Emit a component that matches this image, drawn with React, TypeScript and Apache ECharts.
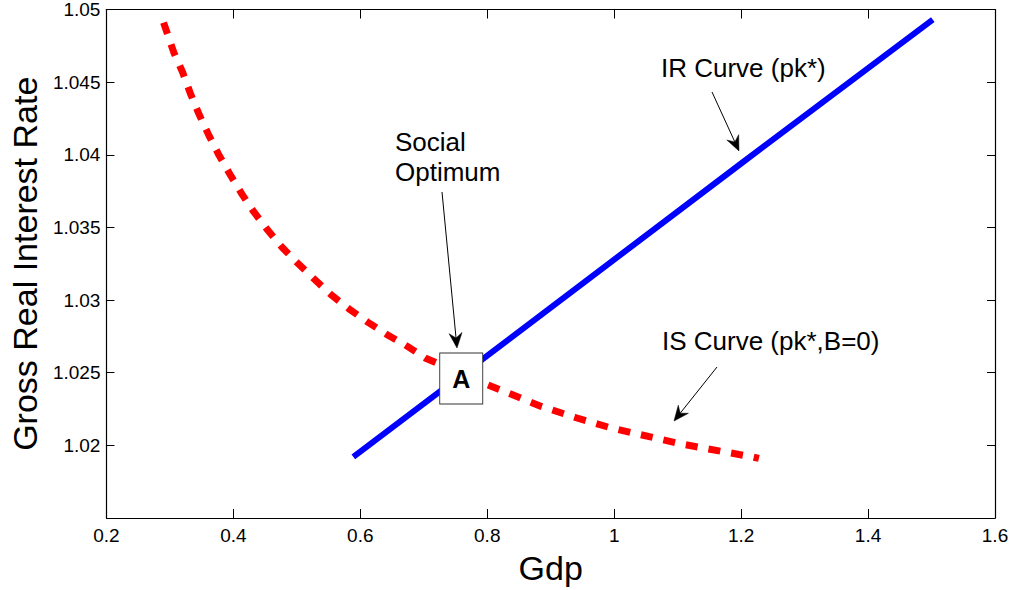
import React, { useEffect, useRef } from "react";
import * as echarts from "echarts";

// ---- data ----
const irCurve: [number, number][] = [
  [0.589, 1.0192],
  [1.2, 1.0394],
  [1.502, 1.0493],
];

const isCurve: [number, number][] = [
  [0.29, 1.0491],
  [0.306, 1.04706],
  [0.32, 1.04568],
  [0.332, 1.04425],
  [0.345, 1.04288],
  [0.361, 1.04137],
  [0.377, 1.04],
  [0.395, 1.03863],
  [0.414, 1.03726],
  [0.432, 1.03608],
  [0.454, 1.03482],
  [0.477, 1.03362],
  [0.501, 1.03255],
  [0.526, 1.0315],
  [0.553, 1.0304],
  [0.582, 1.0294],
  [0.611, 1.0285],
  [0.643, 1.0276],
  [0.671, 1.0269],
  [0.703, 1.026],
  [0.793, 1.0243],
  [0.884, 1.0227],
  [0.94, 1.0219],
  [0.995, 1.0212],
  [1.105, 1.0201],
  [1.218, 1.0192],
  [1.228, 1.0191],
];

const optimumPoint: [number, number][] = [[0.759, 1.0246]];
const optimumLabel = "A";

const xMin = 0.2;
const xMax = 1.6;
const xInterval = 0.2;
const yMin = 1.015;
const yMax = 1.05;
const yInterval = 0.005;

const xTitle = "Gdp";
const yTitle = "Gross Real Interest Rate";
const irLabel = "IR Curve (pk*)";
const isLabel = "IS Curve (pk*,B=0)";
const optimumText = ["Social", "Optimum"];

const FONT = "'Liberation Sans', Arial, Helvetica, sans-serif";

function arrow(x1: number, y1: number, x2: number, y2: number) {
  const dx = x2 - x1;
  const dy = y2 - y1;
  const len = Math.sqrt(dx * dx + dy * dy);
  const ux = dx / len;
  const uy = dy / len;
  const nx = -uy;
  const ny = ux;
  const L = 15;
  const hw = 6.5;
  const notch = 10;
  const bx = x2 - ux * L;
  const by = y2 - uy * L;
  const nX = x2 - ux * notch;
  const nY = y2 - uy * notch;
  return [
    {
      type: "line",
      shape: { x1, y1, x2: nX, y2: nY },
      style: { stroke: "#000", lineWidth: 1 },
      z: 100,
    },
    {
      type: "polygon",
      shape: {
        points: [
          [x2, y2],
          [bx + nx * hw, by + ny * hw],
          [nX, nY],
          [bx - nx * hw, by - ny * hw],
        ],
      },
      style: { fill: "#000", stroke: "#000", lineWidth: 0.5 },
      z: 100,
    },
  ];
}

function fmt(v: number) {
  return String(parseFloat(v.toFixed(4)));
}

export default function App() {
  const ref = useRef<HTMLDivElement>(null);

  useEffect(() => {
    if (!ref.current) return;
    const chart = echarts.init(ref.current, undefined, { renderer: "svg" });

    const axisLine = { show: true, lineStyle: { color: "#000", width: 1.2 } };
    const textStyle26 = { fontFamily: FONT, fontSize: 26, fill: "#000" };

    chart.setOption({
      animation: false,
      backgroundColor: "#fff",
      grid: { left: 106, right: 17, top: 9, bottom: 68, containLabel: false },
      xAxis: [
        {
          type: "value",
          min: xMin,
          max: xMax,
          interval: xInterval,
          position: "bottom",
          axisLine,
          axisTick: { show: true, inside: true, length: 9, lineStyle: { color: "#000" } },
          axisLabel: {
            show: true,
            color: "#000",
            fontFamily: FONT,
            fontSize: 19,
            margin: 8,
            formatter: (v: number) => fmt(v),
          },
          splitLine: { show: false },
          name: xTitle,
          nameLocation: "middle",
          nameGap: 33,
          nameTextStyle: { fontFamily: FONT, fontSize: 34, color: "#000" },
        },
        {
          type: "value",
          min: xMin,
          max: xMax,
          interval: xInterval,
          position: "top",
          axisLine,
          axisTick: { show: true, inside: true, length: 9, lineStyle: { color: "#000" } },
          axisLabel: { show: false },
          splitLine: { show: false },
        },
      ],
      yAxis: [
        {
          type: "value",
          min: yMin,
          max: yMax,
          interval: yInterval,
          position: "left",
          axisLine,
          axisTick: { show: true, inside: true, length: 8, lineStyle: { color: "#000" } },
          axisLabel: {
            show: true,
            showMinLabel: false,
            color: "#000",
            fontFamily: FONT,
            fontSize: 19,
            margin: 6,
            formatter: (v: number) => fmt(v),
          },
          splitLine: { show: false },
          name: yTitle,
          nameLocation: "middle",
          nameGap: 62,
          nameRotate: 90,
          nameTextStyle: { fontFamily: FONT, fontSize: 34, color: "#000" },
        },
        {
          type: "value",
          min: yMin,
          max: yMax,
          interval: yInterval,
          position: "right",
          axisLine,
          axisTick: { show: true, inside: true, length: 8, lineStyle: { color: "#000" } },
          axisLabel: { show: false },
          splitLine: { show: false },
        },
      ],
      series: [
        {
          type: "line",
          name: "IS",
          data: isCurve,
          showSymbol: false,
          symbol: "none",
          smooth: false,
          lineStyle: { color: "#ff0000", width: 7, type: [12, 11], cap: "butt" },
          z: 2,
        },
        {
          type: "line",
          name: "IR",
          data: irCurve,
          showSymbol: false,
          symbol: "none",
          lineStyle: { color: "#0000ff", width: 6, cap: "butt" },
          z: 3,
        },
        {
          type: "scatter",
          name: "A",
          data: optimumPoint,
          symbol: "rect",
          symbolSize: [43, 51],
          itemStyle: { color: "#fff", borderColor: "#333", borderWidth: 1, opacity: 1 },
          label: {
            show: true,
            position: "inside",
            formatter: () => optimumLabel,
            fontFamily: FONT,
            fontWeight: "bold",
            fontSize: 25,
            color: "#000",
          },
          z: 10,
        },
      ],
      graphic: [
        {
          type: "text",
          x: 661,
          y: 68,
          style: { ...textStyle26, text: irLabel, textVerticalAlign: "middle" },
          z: 100,
        },
        {
          type: "text",
          x: 395,
          y: 142,
          style: { ...textStyle26, text: optimumText[0], textVerticalAlign: "middle" },
          z: 100,
        },
        {
          type: "text",
          x: 395,
          y: 172,
          style: { ...textStyle26, text: optimumText[1], textVerticalAlign: "middle" },
          z: 100,
        },
        {
          type: "text",
          x: 662,
          y: 341,
          style: { ...textStyle26, text: isLabel, textVerticalAlign: "middle" },
          z: 100,
        },
        ...arrow(712, 92, 739, 151),
        ...arrow(442, 192, 457, 348),
        ...arrow(717, 367, 674, 421),
      ],
    });

    return () => chart.dispose();
  }, []);

  return (
    <div
      ref={ref}
      style={{ position: "fixed", left: 0, top: 0, width: 1012, height: 590, background: "#fff" }}
    />
  );
}
